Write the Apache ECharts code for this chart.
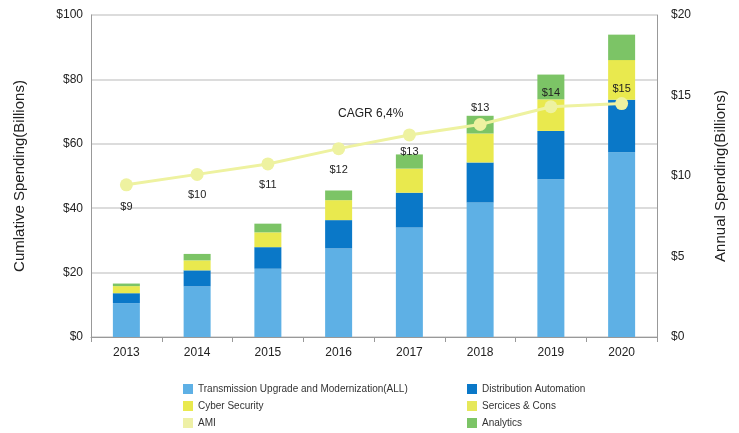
<!DOCTYPE html>
<html><head><meta charset="utf-8">
<script src="https://cdn.jsdelivr.net/npm/echarts@6/dist/echarts.min.js"></script>
<style>html,body{margin:0;padding:0;background:#fff}#c{width:739px;height:433px}</style>
</head><body><div id="c"></div>
<script>
const years = ['2013','2014','2015','2016','2017','2018','2019','2020'];
const transmission = [10.5, 15.7, 21.2, 27.5, 34.0, 41.8, 49.0, 57.4];
const distribution = [3.1, 5.0, 6.7, 8.8, 10.8, 12.4, 15.0, 16.3];
const cyber = [2.2, 3.1, 4.6, 6.2, 7.5, 9.0, 9.8, 12.3];
const services = [];
const ami = [];
const analytics = [0.8, 2.0, 2.7, 3.0, 4.4, 5.5, 7.7, 7.9];
const annual = [9.45, 10.1, 10.75, 11.7, 12.55, 13.2, 14.3, 14.5];
const annualLabels = ['$9','$10','$11','$12','$13','$13','$14','$15'];
const labelPos = ['bottom','bottom','bottom','bottom','bottom','top','top','top'];
const labelDist = [10,9,9,9,5,5,2,3];

const C = {tr:'#5eb0e5', di:'#0a78c8', cy:'#e9e94e', se:'#e6e85a', am:'#eef0a6', an:'#7cc466', line:'#eef2a0'};
const font = 'Liberation Sans, Arial, sans-serif';
const chart = echarts.init(document.getElementById('c'));
const barBase = {type:'bar', stack:'s', barWidth:27};
chart.setOption({
  animation:false,
  textStyle:{fontFamily:font},
  grid:{left:91, right:82, top:15, bottom:96},
  graphic:[{type:'text', left:338, top:108, style:{text:'CAGR 6,4%', font:'12px '+font, fill:'#222'}}],
  legend:[
    {orient:'vertical', left:178, top:379, itemWidth:10, itemHeight:10, itemGap:7, icon:'rect',
     textStyle:{fontSize:10, color:'#333', fontFamily:font},
     data:['Transmission Upgrade and Modernization(ALL)','Cyber Security','AMI']},
    {orient:'vertical', left:462, top:379, itemWidth:10, itemHeight:10, itemGap:7, icon:'rect',
     textStyle:{fontSize:10, color:'#333', fontFamily:font},
     data:['Distribution Automation','Sercices & Cons','Analytics']}
  ],
  xAxis:{type:'category', data:years, boundaryGap:true,
    axisLine:{lineStyle:{color:'#999'}}, axisTick:{show:true, length:5, lineStyle:{color:'#999'}},
    axisLabel:{fontSize:12, color:'#222', margin:10}},
  yAxis:[
    {type:'value', min:0, max:100, interval:20, name:'Cumlative Spending(Billions)', nameLocation:'middle', nameGap:64,
     nameTextStyle:{fontSize:15, color:'#222'},
     axisLine:{show:true, lineStyle:{color:'#999'}}, axisTick:{show:false},
     axisLabel:{fontSize:12, color:'#222', formatter:v=>'$'+v},
     splitLine:{lineStyle:{color:'#d0d0d0', width:1.5}}},
    {type:'value', min:0, max:20, interval:5, name:'Annual Spending(Billions)', nameLocation:'middle', nameGap:56,
     nameTextStyle:{fontSize:15, color:'#222'},
     axisLine:{show:true, lineStyle:{color:'#999'}}, axisTick:{show:false},
     axisLabel:{fontSize:12, color:'#222', margin:14, formatter:v=>'$'+v},
     splitLine:{show:false}}
  ],
  series:[
    Object.assign({name:'Transmission Upgrade and Modernization(ALL)', data:transmission, itemStyle:{color:C.tr}}, barBase),
    Object.assign({name:'Distribution Automation', data:distribution, itemStyle:{color:C.di}}, barBase),
    Object.assign({name:'Cyber Security', data:cyber, itemStyle:{color:C.cy}}, barBase),
    Object.assign({name:'Sercices & Cons', data:services, itemStyle:{color:C.se}}, barBase),
    Object.assign({name:'AMI', data:ami, itemStyle:{color:C.am}}, barBase),
    Object.assign({name:'Analytics', data:analytics, itemStyle:{color:C.an}}, barBase),
    {type:'line', name:'Annual', yAxisIndex:1, z:10, symbol:'circle', symbolSize:13,
     lineStyle:{color:C.line, width:3}, itemStyle:{color:C.line},
     data:annual.map((v,i)=>({value:v, label:{show:true, position:labelPos[i], distance:labelDist[i],
        formatter:annualLabels[i], fontSize:11, color:'#222'}}))}
  ]
});
</script></body></html>
